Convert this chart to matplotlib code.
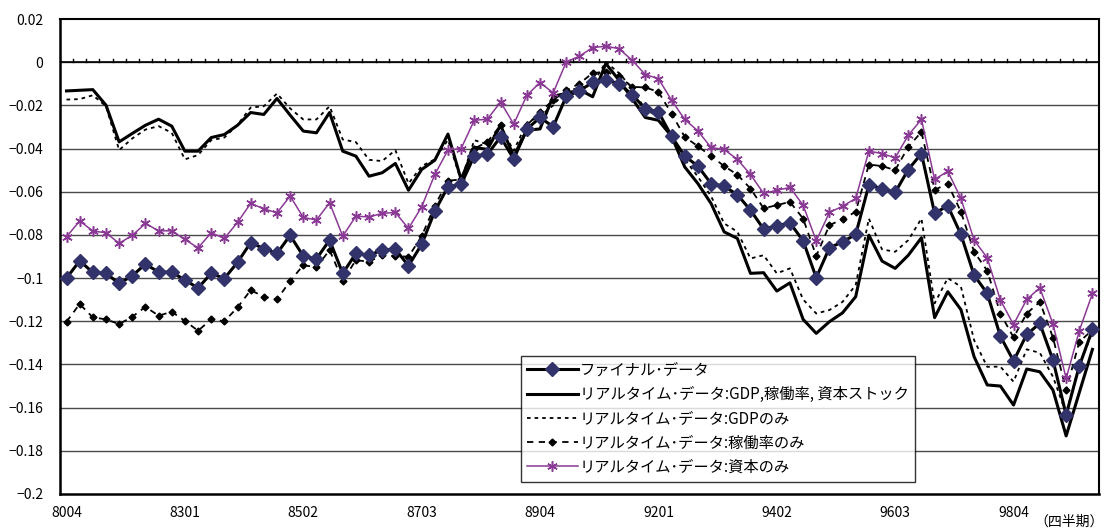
import numpy as np
import matplotlib
matplotlib.use("Agg")
import matplotlib.pyplot as plt

plt.rcParams['font.family'] = ['Noto Sans CJK JP', 'DejaVu Sans']

# 四半期 1980Q4 〜 2000Q2
quarters = []
yy, qq = 1980, 4
while (yy, qq) <= (2000, 2):
    quarters.append(f"{yy % 100:02d}{qq:02d}")
    qq += 1
    if qq > 4:
        yy, qq = yy + 1, 1

final = [-0.100, -0.092, -0.0974, -0.0978, -0.1025, -0.0989, -0.0935, -0.0972, -0.0972, -0.1009,
         -0.1046, -0.0978, -0.1002, -0.0927, -0.0836, -0.0863, -0.0886, -0.0802, -0.0898, -0.0911,
         -0.0824, -0.0978, -0.0886, -0.0894, -0.087, -0.0866, -0.0943, -0.0844, -0.069, -0.0577,
         -0.0566, -0.0434, -0.0427, -0.0346, -0.0449, -0.031, -0.0256, -0.0299, -0.0157, -0.0133,
         -0.0093, -0.0083, -0.0099, -0.015, -0.0216, -0.023, -0.0343, -0.0435, -0.0481, -0.0562,
         -0.0574, -0.0614, -0.0685, -0.0773, -0.0758, -0.0744, -0.0827, -0.0998, -0.086, -0.0832,
         -0.0798, -0.0569, -0.0585, -0.0603, -0.0497, -0.0423, -0.070, -0.0665, -0.0798, -0.0986,
         -0.1071, -0.1269, -0.1384, -0.1261, -0.121, -0.138, -0.1634, -0.1407, -0.1238]

rt_all = [-0.0133, -0.013, -0.0127, -0.0199, -0.0369, -0.033, -0.0292, -0.0264, -0.0296, -0.0412,
          -0.0412, -0.0349, -0.0335, -0.0292, -0.0233, -0.0242, -0.0168, -0.0245, -0.0319, -0.0327,
          -0.0233, -0.0412, -0.0435, -0.0528, -0.0512, -0.0469, -0.0593, -0.0497, -0.0454, -0.0333,
          -0.0543, -0.0394, -0.0404, -0.0292, -0.0435, -0.0315, -0.0309, -0.0157, -0.0145, -0.0127,
          -0.016, -0.0006, -0.0083, -0.0168, -0.0256, -0.0269, -0.0343, -0.0485, -0.0562, -0.0654,
          -0.0786, -0.0816, -0.0978, -0.0975, -0.106, -0.1022, -0.1191, -0.1256, -0.1202, -0.1161,
          -0.1086, -0.0801, -0.0921, -0.0955, -0.0894, -0.0813, -0.1183, -0.1063, -0.1146, -0.1364,
          -0.1495, -0.150, -0.1588, -0.1421, -0.1434, -0.1519, -0.1731, -0.153, -0.133]

gdp_only = [-0.0173, -0.0171, -0.0153, -0.0204, -0.0407, -0.0353, -0.0312, -0.0296, -0.0327, -0.045,
            -0.043, -0.0361, -0.0349, -0.029, -0.021, -0.0204, -0.0145, -0.0214, -0.0265, -0.0265,
            -0.0204, -0.0358, -0.037, -0.0452, -0.0458, -0.0407, -0.0562, -0.0481, -0.045, -0.036,
            -0.0548, -0.0361, -0.038, -0.030, -0.041, -0.028, -0.025, -0.020, -0.013, -0.012,
            -0.010, 0.0001, -0.005, -0.012, -0.022, -0.025, -0.034, -0.045, -0.053, -0.062,
            -0.0747, -0.0785, -0.0909, -0.0894, -0.0978, -0.0955, -0.1099, -0.1164, -0.1148, -0.111,
            -0.1032, -0.0724, -0.0867, -0.0878, -0.0824, -0.0724, -0.1117, -0.100, -0.104, -0.1287,
            -0.1411, -0.141, -0.148, -0.133, -0.1346, -0.1457, -0.1627, -0.1403, -0.125]

util_only = [-0.1202, -0.112, -0.1182, -0.1191, -0.1213, -0.1179, -0.1133, -0.1174, -0.1156, -0.1198,
             -0.1244, -0.1191, -0.120, -0.1136, -0.1056, -0.1086, -0.1099, -0.1014, -0.094, -0.095,
             -0.087, -0.1012, -0.0917, -0.0924, -0.0894, -0.0898, -0.0901, -0.0806, -0.0665, -0.0549,
             -0.0543, -0.040, -0.0369, -0.0292, -0.044, -0.0292, -0.023, -0.0176, -0.013, -0.0099,
             -0.005, -0.0045, -0.0065, -0.0114, -0.0117, -0.0137, -0.0238, -0.0346, -0.0389, -0.0435,
             -0.0481, -0.0521, -0.0585, -0.0677, -0.0662, -0.0647, -0.0724, -0.0898, -0.0755, -0.0727,
             -0.0693, -0.0474, -0.0481, -0.050, -0.0392, -0.0323, -0.0591, -0.0563, -0.0693, -0.0878,
             -0.0966, -0.1164, -0.1275, -0.1164, -0.111, -0.1276, -0.1519, -0.1295, -0.124]

cap_only = [-0.0809, -0.0735, -0.0782, -0.079, -0.0839, -0.0802, -0.0747, -0.0781, -0.0781, -0.0821,
            -0.086, -0.079, -0.0816, -0.0742, -0.0654, -0.0679, -0.0698, -0.062, -0.0719, -0.0731,
            -0.0651, -0.0806, -0.0713, -0.0717, -0.070, -0.0696, -0.077, -0.067, -0.052, -0.0407,
            -0.040, -0.0269, -0.0264, -0.0184, -0.0287, -0.0153, -0.0094, -0.0142, 0.0002, 0.0028,
            0.0068, 0.0074, 0.0063, 0.0009, -0.0057, -0.0076, -0.0176, -0.0265, -0.0318, -0.0395,
            -0.0404, -0.045, -0.052, -0.0608, -0.0593, -0.058, -0.0662, -0.0827, -0.0696, -0.0667,
            -0.0631, -0.0412, -0.0423, -0.0443, -0.0338, -0.0265, -0.0543, -0.0505, -0.0631, -0.0824,
            -0.0906, -0.1102, -0.1215, -0.1099, -0.1045, -0.1213, -0.1465, -0.1244, -0.1071]

labels = ["ファイナル･データ",
          "リアルタイム･データ:GDP,稼働率, 資本ストック",
          "リアルタイム･データ:GDPのみ",
          "リアルタイム･データ:稼働率のみ",
          "リアルタイム･データ:資本のみ"]

yticks = [0.02, 0, -0.02, -0.04, -0.06, -0.08, -0.1, -0.12, -0.14, -0.16, -0.18, -0.2]
ytick_labels = ["0.02", "0", "−0.02", "−0.04", "−0.06", "−0.08", "−0.1",
                "−0.12", "−0.14", "−0.16", "−0.18", "−0.2"]

x = np.arange(len(quarters))

fig = plt.figure(figsize=(11.06, 5.29), dpi=100)
ax = fig.add_axes([0.0542, 0.0662, 0.9395, 0.8978])

# 横グリッド
for v in yticks[1:-1]:
    ax.axhline(v, color="#4a4a4a", lw=1.0, zorder=1)

ax.plot(x, rt_all, color="black", lw=2.2, zorder=4, label=labels[1])
ax.plot(x, gdp_only, color="black", lw=1.3, ls=(0, (2, 2.2)), zorder=3, label=labels[2])
ax.plot(x, util_only, color="black", lw=1.3, ls=(0, (3.5, 3)), marker="D", ms=3.5,
        zorder=3, label=labels[3])
ax.plot(x, cap_only, color="#8a3a94", lw=1.1, marker=(6, 2, 0), ms=7.5, mew=1.1,
        zorder=5, label=labels[4])
ax.plot(x, final, color="black", lw=2.2, marker="D", ms=6.8, mfc="#32336a", mec="#32336a",
        zorder=6, label=labels[0])

# 0 の線と区切り目盛り
ax.axhline(0, color="black", lw=1.2, zorder=2)
for b in np.arange(len(quarters) + 1) - 0.5:
    ax.plot([b, b], [0, 0.0014], color="black", lw=1, zorder=2)

ax.set_xlim(-0.5, len(quarters) - 0.5)
ax.set_ylim(-0.2, 0.02)
ax.set_yticks(yticks)
ax.set_yticklabels(ytick_labels, fontsize=10)
ax.set_xticks(x[::9])
ax.set_xticklabels(quarters[::9], fontsize=10)
ax.tick_params(axis="y", length=0, pad=12)
ax.tick_params(axis="x", length=0, pad=9)

for side in ["left", "bottom", "right", "top"]:
    ax.spines[side].set_color("black")
ax.spines["left"].set_linewidth(1.8)
ax.spines["bottom"].set_linewidth(1.8)
ax.spines["right"].set_linewidth(1.5)
ax.spines["top"].set_linewidth(1.5)

handles, labs = ax.get_legend_handles_labels()
order = [4, 0, 1, 2, 3]
leg = ax.legend([handles[i] for i in order], [labs[i] for i in order],
                loc="upper left", bbox_to_anchor=(0.4437, 0.2912), borderaxespad=0,
                fontsize=11, frameon=True, fancybox=False, edgecolor="black",
                handlelength=3.3, handletextpad=0.15, labelspacing=0.47,
                borderpad=0.4)
leg.get_frame().set_linewidth(1.0)
leg.set_zorder(10)

fig.text(0.998, 0.014, "（四半期）", ha="right", va="center", fontsize=10)

fig.savefig("out.png", dpi=100)
